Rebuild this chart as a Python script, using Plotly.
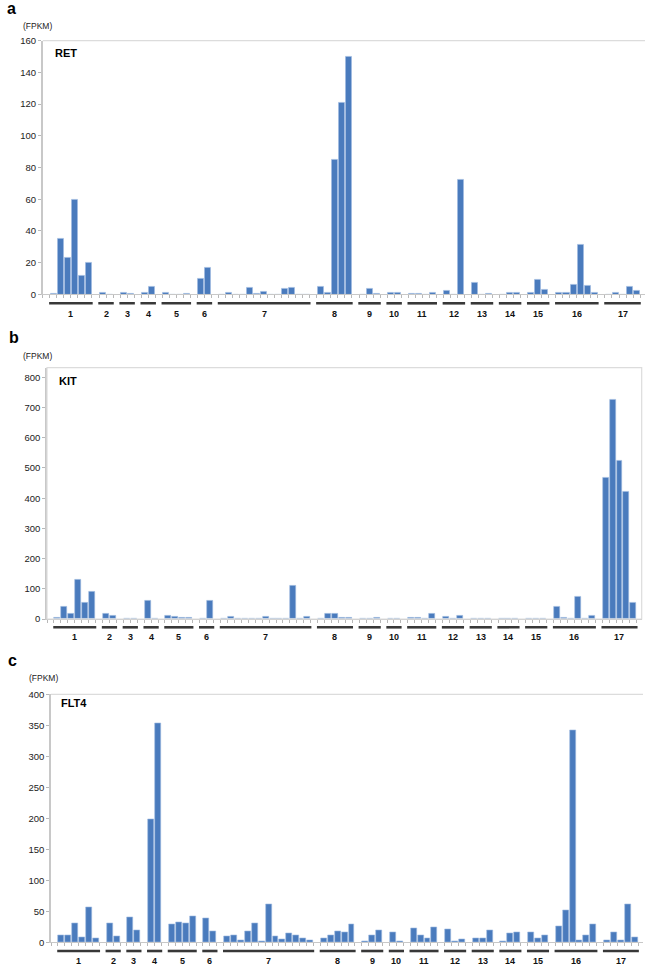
import plotly.graph_objects as go

W, H = 650, 973
OFF = 0  # body margin removed by post_script below

group_labels = [str(i) for i in range(1, 18)]
group_sizes = [6, 2, 2, 2, 4, 2, 13, 5, 3, 2, 4, 3, 3, 3, 3, 6, 5]

# RET (FPKM), samples in group order
ret_values = [0.6, 35, 23, 60, 12, 20,
              0.8, 0,
              1.2, 0.5,
              1.2, 5,
              1.2, 0, 0, 0.2,
              10, 17,
              0, 0.8, 0, 0, 4, 0.5, 1.5, 0, 0, 3.8, 4.2, 0, 0,
              4.5, 1, 85, 121, 150,
              0, 3.5, 0.3,
              0.8, 1.2,
              0.2, 0.2, 0, 1,
              2.5, 0, 72,
              7.5, 0, 0.5,
              0, 1.2, 0.8,
              1, 9, 3,
              0.8, 0.8, 6.3, 31.5, 5.3, 1,
              0, 0.8, 0, 5, 2.5]

# KIT (FPKM)
kit_values = [3, 40, 19, 130, 53, 89,
              16, 10,
              0.5, 1.5,
              62, 0,
              10, 7, 3, 3,
              0, 62,
              0, 6, 0, 0, 2, 0, 6, 2, 0, 0, 110, 0, 6,
              1, 19, 16, 5, 5,
              1, 2, 3,
              2, 0.5,
              3, 3, 0, 17,
              8, 0, 12,
              1, 1, 1,
              0.5, 0.5, 0.5,
              2, 2, 2,
              40, 3, 2, 75, 2, 11,
              468, 727, 523, 423, 55]

# FLT4 (FPKM)
flt4_values = [12, 11, 31, 8, 57, 6,
               30, 10,
               40, 19,
               199, 353,
               29, 32, 31, 42,
               38, 17,
               9, 11, 4, 18, 30, 2, 61, 9, 5, 15, 12, 7, 4,
               6.5, 12, 17, 16, 29,
               1, 12, 19,
               16, 1,
               22, 11, 6, 24,
               21, 1.6, 5,
               6, 6, 20,
               2, 14, 16,
               16, 6, 12,
               26, 52, 342, 2.5, 11, 29,
               4, 16, 3, 62, 8]

# slot positions: one empty slot before each group
positions = []
group_spans = []
pos = 1
for n in group_sizes:
    group_spans.append((pos, pos + n - 1))
    positions.extend(range(pos, pos + n))
    pos += n + 1
n_slots = pos

panels = [
    dict(letter="a", gene="RET", values=ret_values, ymax=160, dtick=20,
         x0=42.8, x1=645, ytop_px=40.7, ybot_px=294.3, box=False,
         line_px=303.3, lab_px=313.5, letter_px=(11, 9), fpkm_px=(37, 26),
         gene_px=(53, 52.5), xr=(-0.5, 85.2)),
    dict(letter="b", gene="KIT", values=kit_values, ymax=832, dtick=100,
         x0=47.0, x1=641.7, ytop_px=367.7, ybot_px=619.0, box=True,
         line_px=627.3, lab_px=636.5, letter_px=(14, 337), fpkm_px=(37, 355.7),
         gene_px=(57, 380.7), xr=(-0.5, 85.2)),
    dict(letter="c", gene="FLT4", values=flt4_values, ymax=400, dtick=50,
         x0=51.0, x1=643, ytop_px=694.3, ybot_px=942.3, box=False,
         line_px=951.0, lab_px=960.5, letter_px=(12, 660), fpkm_px=(43, 677.7),
         gene_px=(59, 703), xr=(-0.5, 85.2)),
]

FONT = "Arial, Liberation Sans, Helvetica, sans-serif"
BAR = "#4a7bbd"

def px(p):
    return (p - OFF) / W

def py(p):
    return 1 - (p - OFF) / H

fig = go.Figure()
shapes = []
annotations = []
boundaries = [i - 0.5 for i in range(0, n_slots + 1)]

for i, p in enumerate(panels, start=1):
    xa = "x" if i == 1 else f"x{i}"
    ya = "y" if i == 1 else f"y{i}"
    fig.add_trace(go.Bar(
        x=positions, y=p["values"], xaxis=xa, yaxis=ya,
        marker=dict(color=BAR, line=dict(color="#9fbbe0", width=0.6)),
        width=0.86, showlegend=False, hoverinfo="y"))
    xkey = "xaxis" if i == 1 else f"xaxis{i}"
    ykey = "yaxis" if i == 1 else f"yaxis{i}"
    fig.update_layout({
        xkey: dict(domain=[px(p["x0"]), px(p["x1"])], anchor=ya,
                   range=list(p["xr"]), showgrid=False, zeroline=False,
                   showline=True, linecolor="#c8c8c8", linewidth=1,
                   tickmode="array", tickvals=boundaries, ticks="outside",
                   ticklen=3, tickcolor="#b8b8b8", tickwidth=1,
                   showticklabels=False, fixedrange=True, automargin=False),
        ykey: dict(domain=[py(p["ybot_px"]), py(p["ytop_px"])], anchor=xa,
                   range=[0, p["ymax"]], showgrid=False, zeroline=False,
                   showline=True, linecolor="#c8c8c8", linewidth=1.5,
                   tickmode="linear", tick0=0, dtick=p["dtick"],
                   ticks="outside", ticklen=3, tickcolor="#b8b8b8",
                   tickfont=dict(family=FONT, size=9.5, color="#222"),
                   fixedrange=True, automargin=False),
    })
    if p["box"]:
        shapes.append(dict(type="rect", xref="paper", yref="paper",
                           x0=px(p["x0"]), x1=px(p["x1"]),
                           y0=py(p["ybot_px"]), y1=py(p["ytop_px"]),
                           line=dict(color="#dcdcdc", width=1.2)))
    else:
        shapes.append(dict(type="line", xref="paper", yref="paper",
                           x0=px(p["x0"]), x1=px(p["x1"]),
                           y0=py(p["ytop_px"]), y1=py(p["ytop_px"]),
                           line=dict(color="#dcdcdc", width=1.2)))
    for lab, (a, b) in zip(group_labels, group_spans):
        shapes.append(dict(type="line", xref=xa, yref="paper",
                           x0=a - 0.6, x1=b + 0.6,
                           y0=py(p["line_px"]), y1=py(p["line_px"]),
                           line=dict(color="#383838", width=2.6)))
        annotations.append(dict(xref=xa, yref="paper", x=(a + b) / 2,
                                y=py(p["lab_px"]), text=f"<b>{lab}</b>",
                                showarrow=False, yanchor="middle",
                                font=dict(family=FONT, size=9, color="#111")))
    annotations.append(dict(xref="paper", yref="paper", x=px(p["letter_px"][0]),
                            y=py(p["letter_px"][1]), text=f"<b>{p['letter']}</b>",
                            showarrow=False, xanchor="center", yanchor="middle",
                            font=dict(family=FONT, size=16, color="#000")))
    annotations.append(dict(xref="paper", yref="paper", x=px(p["fpkm_px"][0]),
                            y=py(p["fpkm_px"][1]), text="(FPKM)",
                            showarrow=False, xanchor="center", yanchor="middle",
                            font=dict(family=FONT, size=8.5, color="#222")))
    annotations.append(dict(xref="paper", yref="paper", x=px(p["gene_px"][0]),
                            y=py(p["gene_px"][1]), text=f"<b>{p['gene']}</b>",
                            showarrow=False, xanchor="left", yanchor="middle",
                            font=dict(family=FONT, size=11, color="#000")))

fig.update_layout(width=W, height=H, margin=dict(l=0, r=0, t=0, b=0, autoexpand=False),
                  paper_bgcolor="white", plot_bgcolor="white",
                  bargap=0, shapes=shapes, annotations=annotations,
                  font=dict(family=FONT))
fig.write_html("out.html", config={"displayModeBar": False},
               post_script="document.body.style.margin='0px';")
